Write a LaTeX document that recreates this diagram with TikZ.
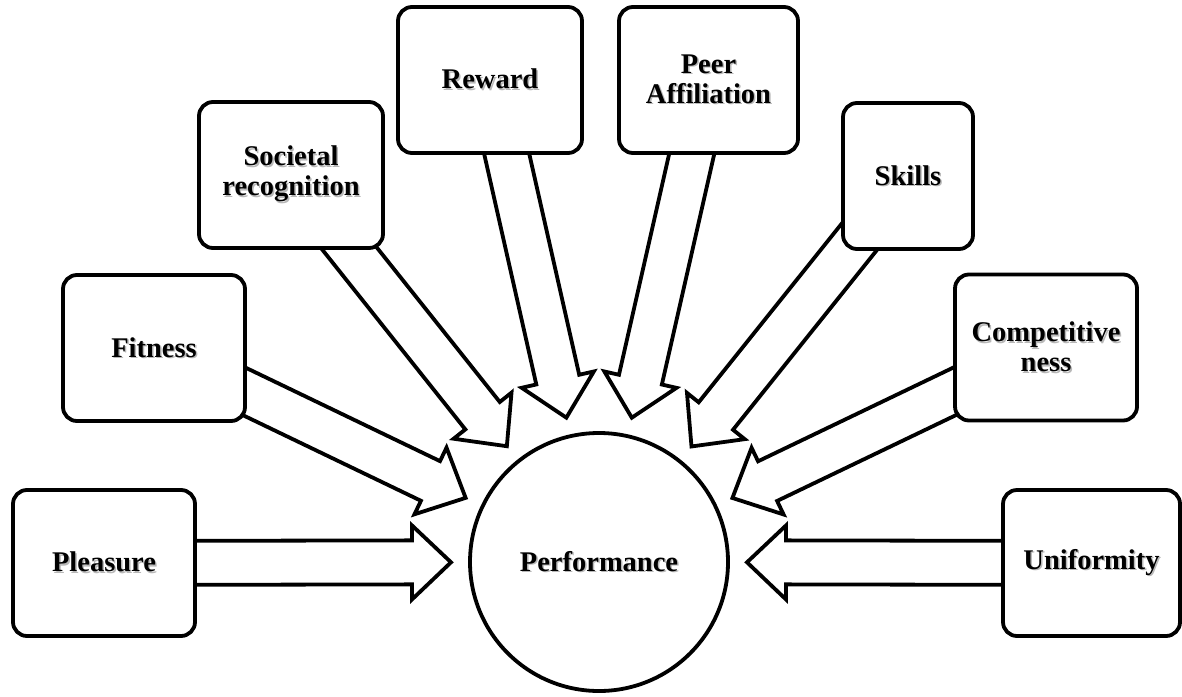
\documentclass[tikz,border=0pt]{standalone}
\usepackage{fontspec}
\setmainfont{Liberation Serif}
\usetikzlibrary{calc,backgrounds}

% bold label with a soft grey drop shadow
\newcommand\shd[1]{\makebox[0pt][l]{\hspace{1.5pt}\raisebox{-1.5pt}{\textcolor{black!28}{#1}}}#1}

\tikzset{
  label font/.style={font=\bfseries\fontsize{28.5}{30}\selectfont},
  factor/.style={draw, line width=3.8pt, rounded corners=14pt, fill=white,
    minimum width=182pt, minimum height=146pt, inner sep=0pt, align=center, label font},
  core/.style={circle, draw, line width=3.8pt, fill=white,
    minimum size=258pt, inner sep=0pt, label font},
  flow/.style={draw, fill=white, line width=3.8pt, line join=miter},
}

% block arrow from a factor box towards the central circle
\newcommand\feed[1]{%
  \coordinate (tip) at ($(perf.center)!148pt!(#1.center)$);
  \coordinate (neck) at ($(tip)!39pt!(#1.center)$);
  \draw[flow] ($(#1.center)!22pt!90:(tip)$)
    -- ($(neck)!22pt!90:(tip)$)
    -- ($(neck)!37pt!90:(tip)$)
    -- (tip)
    -- ($(neck)!37pt!-90:(tip)$)
    -- ($(neck)!22pt!-90:(tip)$)
    -- ($(#1.center)!22pt!-90:(tip)$) -- cycle;
}

\begin{document}
\begin{tikzpicture}[x=1pt, y=-1pt]
  \useasboundingbox (0,0) rectangle (1182,696);

  \node[core] (perf) at (599,562) {\shd{Performance}};

  \node[factor] (pleasure) at (104,563) {\shd{Pleasure}};
  \node[factor] (fitness)  at (154,348) {\shd{Fitness}};
  \node[factor, minimum width=184pt] (societal) at (291,175) {\shd{Societal}\\\shd{recognition}};
  \node[factor, minimum width=184pt] (reward)   at (490,80)  {\shd{Reward}};
  \node[factor, minimum width=179pt] (peer)     at (708.5,80) {\shd{Peer}\\\shd{Affiliation}};
  \node[factor, minimum width=130pt] (skills)   at (908,176) {\shd{Skills}};
  \node[factor] (compet)   at (1046,347.5) {\shd{Competitive}\\\shd{ness}};
  \node[factor, minimum width=177pt] (uniform)  at (1091.5,563) {\shd{Uniformity}};

  \begin{scope}[on background layer]
    \feed{pleasure}
    \feed{fitness}
    \feed{societal}
    \feed{reward}
    \feed{peer}
    \feed{skills}
    \feed{compet}
    \feed{uniform}
  \end{scope}
\end{tikzpicture}
\end{document}
